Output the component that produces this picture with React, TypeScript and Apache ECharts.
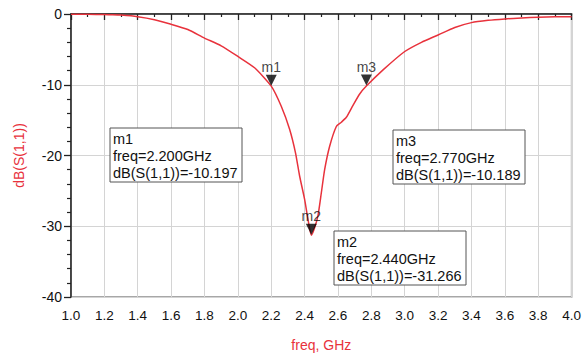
import React, { useEffect, useRef } from "react";
import * as echarts from "echarts";

const freqGHz = [1.0, 1.1, 1.2, 1.25, 1.3, 1.4, 1.5, 1.6, 1.7, 1.8, 1.9, 2.0, 2.1, 2.2, 2.26, 2.31, 2.345, 2.37, 2.4, 2.42, 2.44, 2.46, 2.48, 2.5, 2.52, 2.55, 2.59, 2.62, 2.65, 2.69, 2.73, 2.77, 2.87, 3.0, 3.1, 3.2, 3.3, 3.4, 3.5, 3.6, 3.7, 3.8, 3.9, 4.0];
const s11dB = [-0.05, -0.05, -0.08, -0.1, -0.15, -0.38, -0.8, -1.45, -2.2, -3.4, -4.5, -6.0, -7.6, -10.197, -13.05, -16.3, -19.6, -22.9, -26.2, -29.0, -31.266, -30.2, -28.5, -25.3, -22.0, -18.7, -15.9, -15.3, -14.6, -12.9, -11.3, -10.189, -7.9, -5.3, -4.0, -2.96, -1.9, -1.22, -0.9, -0.7, -0.55, -0.46, -0.4, -0.38];

const markerNames = ["m1", "m2", "m3"];
const markerFreq = [2.2, 2.44, 2.77];
const markerDb = [-10.197, -31.266, -10.189];

const xTicks = { min: 1.0, max: 4.0, interval: 0.2 };
const yTicks = { min: -40, max: 0, interval: 10 };

const boxPos = [
  { x: 110, y: 128 },
  { x: 334, y: 231 },
  { x: 393, y: 130 },
];

export default function App() {
  const ref = useRef<HTMLDivElement>(null);
  useEffect(() => {
    if (!ref.current) return;
    const chart = echarts.init(ref.current, null, { renderer: "svg" });
    const red = "#e8323c";
    const font = "Liberation Sans, Arial, sans-serif";
    const boxes: any[] = [];
    markerNames.forEach((n, i) => {
      const p = boxPos[i];
      boxes.push({
        type: "rect",
        shape: { x: p.x, y: p.y, width: 132, height: 54 },
        style: { fill: "#fff", stroke: "#555", lineWidth: 1 },
        z: 10,
      });
      boxes.push({
        type: "text",
        x: p.x + 3,
        y: p.y + 2,
        style: {
          text: `${n}\nfreq=${markerFreq[i].toFixed(3)}GHz\ndB(S(1,1))=${markerDb[i].toFixed(3)}`,
          font: `14.5px ${font}`,
          lineHeight: 17,
          fill: "#111",
        },
        z: 11,
      });
    });
    chart.setOption({
      animation: false,
      backgroundColor: "#fff",
      grid: {
        left: 71,
        right: 12,
        top: 14,
        bottom: 61,
        show: true,
        borderColor: "#8a8a8a",
        borderWidth: 1.5,
      },
      xAxis: {
        type: "value",
        min: xTicks.min,
        max: xTicks.max,
        interval: xTicks.interval,
        name: "freq, GHz",
        nameLocation: "middle",
        nameGap: 41,
        nameTextStyle: { color: red, fontSize: 14, fontFamily: font },
        axisLine: { show: true, lineStyle: { color: "#222", width: 1.5 } },
        axisTick: { show: true, inside: false, length: 6, lineStyle: { color: "#222", width: 1.3 } },
        minorTick: { show: true, splitNumber: 2, length: 3, lineStyle: { color: "#222", width: 1.2 } },
        axisLabel: {
          margin: 11,
          color: "#111",
          fontSize: 13.5,
          fontFamily: font,
          formatter: (v: number) => v.toFixed(1),
        },
        splitLine: { show: true, lineStyle: { color: "#d4d4d4", width: 1 } },
      },
      yAxis: {
        type: "value",
        min: yTicks.min,
        max: yTicks.max,
        interval: yTicks.interval,
        name: "dB(S(1,1))",
        nameLocation: "middle",
        nameGap: 45,
        nameRotate: 90,
        nameTextStyle: { color: red, fontSize: 14, fontFamily: font },
        axisLine: { show: true, lineStyle: { color: "#222", width: 1.5 } },
        axisTick: { show: true, inside: false, length: 7, lineStyle: { color: "#222", width: 1.3 } },
        minorTick: { show: true, splitNumber: 5, length: 4, lineStyle: { color: "#222", width: 1.2 } },
        axisLabel: { margin: 9, color: "#111", fontSize: 14, fontFamily: font },
        splitLine: { show: true, lineStyle: { color: "#d4d4d4", width: 1 } },
      },
      series: [
        {
          type: "line",
          data: freqGHz.map((f, i) => [f, s11dB[i]]),
          showSymbol: false,
          smooth: 0.2,
          lineStyle: { color: red, width: 1.5 },
          z: 3,
        },
        {
          type: "scatter",
          data: markerFreq.map((f, i) => ({ value: [f, markerDb[i]], name: markerNames[i] })),
          symbol: "triangle",
          symbolRotate: 180,
          symbolSize: [11, 11],
          symbolOffset: [0, -6],
          itemStyle: { color: "#000" },
          label: {
            show: true,
            position: "top",
            distance: 1,
            formatter: (p: any) => p.name,
            color: "#111",
            fontSize: 14,
            fontFamily: font,
          },
          z: 5,
        },
      ],
      graphic: boxes,
    });
    return () => chart.dispose();
  }, []);
  return (
    <div
      ref={ref}
      style={{ position: "absolute", left: 0, top: 0, width: 584, height: 358 }}
    />
  );
}
